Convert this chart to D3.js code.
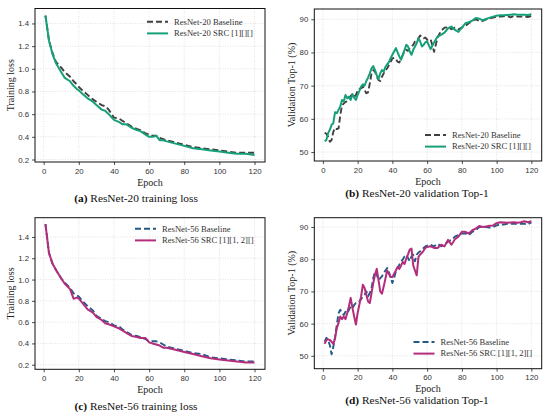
<!DOCTYPE html>
<html>
<head>
<meta charset="utf-8">
<script src="https://cdn.jsdelivr.net/npm/d3@7"></script>
<style>
  body { margin: 0; background: #fff; }
  svg { font-family: "Liberation Serif", "DejaVu Serif", serif; }
  .tick text { font-size: 7.8px; fill: #333; }
  .axis-label { font-size: 10px; fill: #222; }
  .legend text { font-size: 8.6px; fill: #333; }
  .caption { font-size: 11.4px; fill: #111; }
</style>
</head>
<body>
<svg id="chart" width="550" height="417"></svg>
<script>
// Epochs sampled from the curves
let lossEpochs = [1, 3, 5, 7, 10, 12, 15, 17, 19, 20, 22, 25, 28, 30, 33, 35, 37, 40, 43, 45, 47,
  50, 53, 55, 58, 60, 62, 64, 66, 68, 70, 75, 80, 85, 90, 95, 100, 105, 110, 115, 120];

let valEpochs = [1, 2, 3, 4, 5, 6, 7, 8, 9, 10, 11, 12, 13, 14, 15, 16, 17, 18, 19, 20,
  21, 22, 23, 24, 25, 26, 27, 28, 29, 30, 31, 32, 33, 34, 35, 36, 37, 38, 39, 40,
  41, 42, 43, 44, 45, 46, 47, 48, 49, 50, 51, 52, 53, 54, 55, 56, 57, 58, 59, 60,
  62, 64, 66, 68, 70, 72, 74, 76, 78, 80, 82, 84, 86, 88, 90, 92, 94, 96, 98, 100,
  102, 104, 106, 108, 110, 112, 114, 116, 118, 120];

// (a) ResNet-20 training loss
let r20BaseLoss = [1.47, 1.25, 1.14, 1.06, 1.01, 0.97, 0.93, 0.89, 0.86, 0.84, 0.81, 0.77, 0.73, 0.71,
  0.68, 0.67, 0.64, 0.57, 0.56, 0.54, 0.52, 0.49, 0.47, 0.46, 0.43, 0.42, 0.41, 0.41, 0.39, 0.38,
  0.37, 0.35, 0.33, 0.31, 0.30, 0.29, 0.28, 0.27, 0.26, 0.26, 0.26];
let r20SrcLoss = [1.47, 1.25, 1.13, 1.05, 0.97, 0.92, 0.89, 0.85, 0.82, 0.81, 0.78, 0.74, 0.71, 0.68,
  0.64, 0.63, 0.60, 0.55, 0.53, 0.51, 0.51, 0.48, 0.46, 0.45, 0.42, 0.40, 0.40, 0.41, 0.37, 0.37,
  0.36, 0.34, 0.32, 0.30, 0.29, 0.28, 0.27, 0.26, 0.25, 0.25, 0.24];

// (b) ResNet-20 validation Top-1
let r20BaseVal = [55.8, 55.5, 54.6, 53.1, 53.6, 56.1, 57.3, 56.9, 57.1, 61.1, 64.1, 64.6, 65.1, 65.3,
  66.1, 66.9, 67.4, 66.7, 67.2, 68.4, 69.0, 69.2, 69.7, 68.7, 67.7, 68.0, 70.7, 73.7, 74.7, 74.2,
  72.7, 71.7, 71.4, 72.7, 73.7, 74.7, 75.2, 76.2, 77.2, 78.2, 78.4, 78.0, 77.2, 77.0, 78.2, 79.3,
  80.3, 80.8, 80.5, 81.3, 81.8, 82.3, 83.3, 83.5, 84.3, 85.1, 84.8, 84.3, 84.5, 83.8,
  84.0, 80.2, 84.5, 86.5, 87.5, 87.6, 87.0, 87.5, 87.0, 87.5, 88.0, 88.8, 89.5, 90.0, 89.5,
  89.5, 90.0, 90.3, 90.5, 90.8, 90.8, 90.9, 91.0, 90.6, 91.0, 90.8, 90.8, 90.9, 90.7, 91.0];
let r20SrcVal = [53.3, 53.6, 55.7, 56.7, 58.2, 58.7, 62.0, 61.7, 62.7, 63.7, 65.7, 65.2, 67.2, 66.2,
  66.7, 65.7, 67.4, 66.4, 65.7, 67.2, 68.4, 69.7, 70.4, 70.0, 71.4, 72.4, 73.7, 75.2, 75.9, 74.7,
  73.2, 72.0, 73.7, 74.7, 74.2, 75.7, 76.4, 77.1, 78.3, 79.3, 80.3, 81.3, 80.0, 78.8, 77.8, 79.3,
  80.8, 82.3, 81.8, 80.3, 79.3, 80.8, 81.8, 82.8, 84.3, 83.3, 81.8, 82.3, 83.1, 83.3,
  81.0, 83.0, 84.8, 85.3, 86.0, 87.3, 87.8, 86.8, 86.2, 87.5, 88.8, 89.1, 89.6, 90.4, 90.2,
  89.7, 90.1, 90.5, 90.8, 91.1, 91.2, 91.2, 91.3, 91.4, 91.5, 91.4, 91.4, 91.4, 91.3, 91.5];

// (c) ResNet-56 training loss
let r56BaseLoss = [1.52, 1.25, 1.15, 1.09, 1.01, 0.97, 0.92, 0.87, 0.85, 0.84, 0.80, 0.75, 0.71, 0.66,
  0.63, 0.61, 0.60, 0.57, 0.56, 0.53, 0.51, 0.48, 0.47, 0.46, 0.44, 0.42, 0.42, 0.42, 0.41, 0.39,
  0.37, 0.35, 0.33, 0.31, 0.30, 0.27, 0.26, 0.25, 0.24, 0.23, 0.23];
let r56SrcLoss = [1.52, 1.25, 1.15, 1.09, 1.01, 0.96, 0.91, 0.82, 0.83, 0.82, 0.78, 0.72, 0.69, 0.65,
  0.62, 0.59, 0.58, 0.56, 0.54, 0.52, 0.50, 0.47, 0.46, 0.45, 0.45, 0.41, 0.40, 0.39, 0.38, 0.36,
  0.36, 0.34, 0.32, 0.30, 0.28, 0.26, 0.25, 0.24, 0.23, 0.22, 0.22];

// (d) ResNet-56 validation Top-1
let r56BaseVal = [54.4, 55.6, 54.9, 53.3, 50.5, 52.8, 55.9, 59.6, 63.2, 64.3, 63.2, 62.7, 63.7, 63.2,
  64.3, 65.3, 64.8, 65.8, 66.4, 66.4, 66.9, 67.6, 68.5, 69.0, 70.0, 68.5, 69.5, 71.0, 74.2, 76.2,
  75.2, 73.6, 74.1, 74.7, 75.7, 76.5, 77.3, 76.0, 74.2, 72.6, 74.2, 76.2, 77.3, 78.3, 79.4, 79.9,
  80.9, 81.4, 80.4, 79.4, 80.9, 81.4, 79.4, 81.4, 82.1, 82.5, 83.0, 83.5, 84.0, 84.2,
  84.5, 84.0, 84.8, 84.0, 84.5, 85.5, 86.0, 87.0, 87.5, 88.0, 88.0, 87.5, 88.5, 89.0, 90.0,
  90.0, 90.0, 89.8, 90.0, 90.5, 90.8, 90.8, 91.0, 91.0, 91.0, 91.0, 91.0, 91.0, 90.8, 91.5];
let r56SrcVal = [53.7, 54.9, 55.1, 54.9, 54.4, 53.7, 55.4, 58.6, 60.2, 62.2, 61.4, 62.2, 61.4, 63.3,
  65.4, 68.0, 64.9, 62.2, 59.7, 63.3, 65.9, 68.5, 72.1, 71.1, 69.0, 66.9, 66.4, 69.5, 72.6, 75.2,
  77.0, 73.6, 70.0, 69.3, 71.5, 74.0, 76.5, 75.5, 74.5, 74.5, 75.5, 76.5, 77.6, 77.0, 78.0, 79.2,
  78.5, 80.2, 81.5, 83.0, 83.3, 78.1, 76.5, 75.0, 80.7, 81.5, 82.0, 82.7, 83.5, 83.8,
  84.0, 83.5, 83.5, 84.5, 84.0, 86.0, 84.5, 86.2, 87.0, 88.5, 88.5, 88.0, 89.0, 89.5, 90.3,
  90.0, 90.2, 90.4, 90.5, 91.2, 91.5, 91.4, 91.3, 91.4, 91.5, 91.3, 91.5, 91.8, 91.5, 91.8];

let xTicks = [0, 20, 40, 60, 80, 100, 120];
let lossTicks = [0.2, 0.4, 0.6, 0.8, 1.0, 1.2, 1.4];
let valTicks = [50, 60, 70, 80, 90];

let gray = "#3f3f3f", green = "#16a079", blue = "#245a86", magenta = "#b42c7c";

let svg = d3.select("#chart");

function drawPanel(p) {
  let x = d3.scaleLinear().domain([-4.95, 125.95]).range([p.left, p.right]);
  let y = d3.scaleLinear().domain(p.yDomain).range([p.bottom, p.top]);
  let g = svg.append("g");

  // dotted grid
  g.append("g").selectAll("line").data(xTicks).join("line")
    .attr("x1", d => x(d)).attr("x2", d => x(d))
    .attr("y1", p.top).attr("y2", p.bottom)
    .attr("stroke", "#cfcfcf").attr("stroke-width", 0.6).attr("stroke-dasharray", "1,1.5");
  g.append("g").selectAll("line").data(p.yTicks).join("line")
    .attr("x1", p.left).attr("x2", p.right)
    .attr("y1", d => y(d)).attr("y2", d => y(d))
    .attr("stroke", "#cfcfcf").attr("stroke-width", 0.6).attr("stroke-dasharray", "1,1.5");

  let xAxis = g.append("g").attr("transform", `translate(0,${p.bottom})`)
    .call(d3.axisBottom(x).tickValues(xTicks).tickSize(3).tickPadding(3));
  let yAxis = g.append("g").attr("transform", `translate(${p.left},0)`)
    .call(d3.axisLeft(y).tickValues(p.yTicks).tickFormat(p.fmt).tickSize(3).tickPadding(3));
  [xAxis, yAxis].forEach(a => {
    a.select(".domain").remove();
    a.selectAll(".tick line").attr("stroke", "#222").attr("stroke-width", 0.8);
    a.selectAll(".tick text").attr("font-family", null).attr("font-size", null);
  });

  // series
  let line = d3.line().x(d => x(d[0])).y(d => y(d[1]));
  p.series.forEach(s => {
    g.append("path")
      .datum(d3.zip(s.x, s.y))
      .attr("fill", "none")
      .attr("stroke", s.color)
      .attr("stroke-width", s.dash ? 1.9 : 2)
      .attr("stroke-dasharray", s.dash || null)
      .attr("stroke-linejoin", "round")
      .attr("d", line);
  });

  // frame
  g.append("rect")
    .attr("x", p.left).attr("y", p.top)
    .attr("width", p.right - p.left).attr("height", p.bottom - p.top)
    .attr("fill", "none").attr("stroke", "#111").attr("stroke-width", 1);

  // legend
  let lg = g.append("g").attr("class", "legend");
  p.series.forEach((s, i) => {
    let ly = p.legend.y + i * 11.6;
    lg.append("line")
      .attr("x1", p.legend.x).attr("x2", p.legend.x + 21)
      .attr("y1", ly).attr("y2", ly)
      .attr("stroke", s.color).attr("stroke-width", 2)
      .attr("stroke-dasharray", s.dash || null);
    lg.append("text")
      .attr("x", p.legend.x + 27).attr("y", ly).attr("dy", "0.33em")
      .text(s.name);
  });

  // axis labels
  g.append("text").attr("class", "axis-label")
    .attr("x", (p.left + p.right) / 2).attr("y", p.bottom + 23.5)
    .attr("text-anchor", "middle").text("Epoch");
  g.append("text").attr("class", "axis-label")
    .attr("transform", `translate(${p.yLabelX},${(p.top + p.bottom) / 2}) rotate(-90)`)
    .attr("text-anchor", "middle").text(p.yLabel);

  // caption
  let cap = g.append("text").attr("class", "caption")
    .attr("x", p.capX).attr("y", p.capY).attr("text-anchor", "middle");
  cap.append("tspan").attr("font-weight", "bold").text(p.tag);
  cap.append("tspan").text(" " + p.caption);
}

let fmtLoss = d3.format(".1f");
let fmtVal = d3.format("d");

drawPanel({
  left: 35, right: 265, top: 8.5, bottom: 162,
  yDomain: [0.178, 1.532], yTicks: lossTicks, fmt: fmtLoss,
  yLabel: "Training loss", yLabelX: 13.5,
  legend: { x: 147, y: 21.8 },
  tag: "(a)", caption: "ResNet-20 training loss", capX: 136, capY: 201.5,
  series: [
    { name: "ResNet-20 Baseline", x: lossEpochs, y: r20BaseLoss, color: gray, dash: "6,3" },
    { name: "ResNet-20 SRC [1][][]", x: lossEpochs, y: r20SrcLoss, color: green }
  ]
});

drawPanel({
  left: 314.3, right: 541.7, top: 9, bottom: 161,
  yDomain: [47.3, 93.1], yTicks: valTicks, fmt: fmtVal,
  yLabel: "Validation Top-1 (%)", yLabelX: 294.5,
  legend: { x: 425, y: 135 },
  tag: "(b)", caption: "ResNet-20 validation Top-1", capX: 417, capY: 196.5,
  series: [
    { name: "ResNet-20 Baseline", x: valEpochs, y: r20BaseVal, color: gray, dash: "6,3" },
    { name: "ResNet-20 SRC [1][][]", x: valEpochs, y: r20SrcVal, color: green }
  ]
});

drawPanel({
  left: 35, right: 265, top: 217.7, bottom: 369.3,
  yDomain: [0.157, 1.581], yTicks: lossTicks, fmt: fmtLoss,
  yLabel: "Training loss", yLabelX: 13.5,
  legend: { x: 135, y: 228.8 },
  tag: "(c)", caption: "ResNet-56 training loss", capX: 136, capY: 409.5,
  series: [
    { name: "ResNet-56 Baseline", x: lossEpochs, y: r56BaseLoss, color: blue, dash: "6,3" },
    { name: "ResNet-56 SRC [1][1, 2][]", x: lossEpochs, y: r56SrcLoss, color: magenta }
  ]
});

drawPanel({
  left: 314.3, right: 541.7, top: 217.7, bottom: 368.7,
  yDomain: [46.0, 92.9], yTicks: valTicks, fmt: fmtVal,
  yLabel: "Validation Top-1 (%)", yLabelX: 294.5,
  legend: { x: 413.5, y: 342 },
  tag: "(d)", caption: "ResNet-56 validation Top-1", capX: 417, capY: 403.5,
  series: [
    { name: "ResNet-56 Baseline", x: valEpochs, y: r56BaseVal, color: blue, dash: "6,3" },
    { name: "ResNet-56 SRC [1][1, 2][]", x: valEpochs, y: r56SrcVal, color: magenta }
  ]
});
</script>
</body>
</html>
